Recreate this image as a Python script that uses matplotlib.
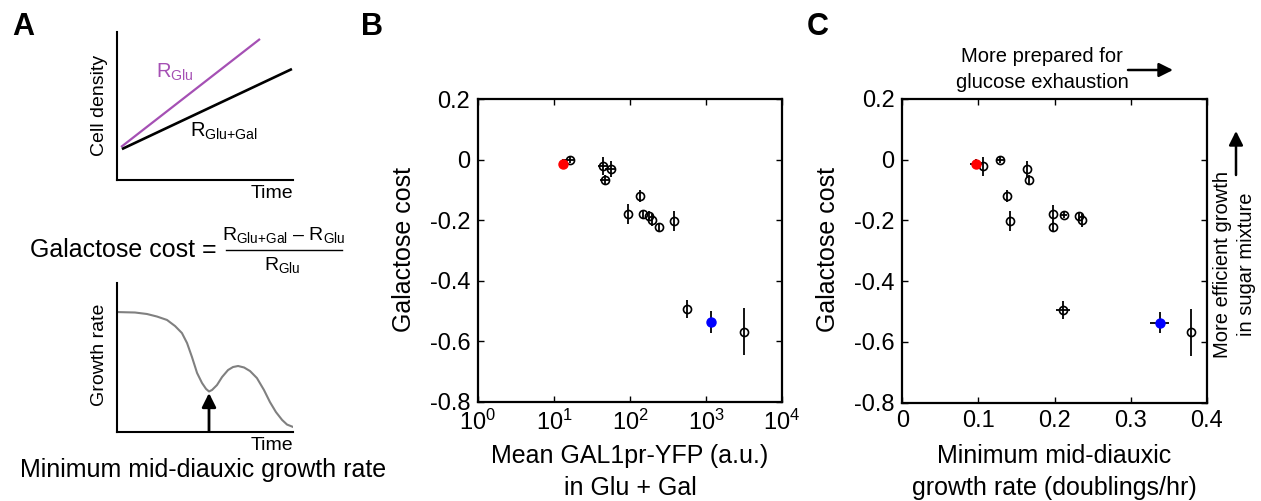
import matplotlib
matplotlib.use('Agg')
import matplotlib.pyplot as plt
from matplotlib.patches import FancyArrowPatch, ArrowStyle
from matplotlib.lines import Line2D
from matplotlib.ticker import NullLocator

# ---------------- data ----------------
# galactose cost (shared by panels B and C)
cost = [0.0, -0.014, -0.022, -0.031, -0.067, -0.120, -0.180, -0.181, -0.186,
        -0.200, -0.201, -0.223, -0.494, -0.536, -0.568]
cost_err = [0.010, 0.015, 0.030, 0.027, 0.017, 0.020, 0.032, 0.012, 0.015,
            0.020, 0.033, 0.012, 0.030, 0.036, 0.078]
# panel B: mean GAL1pr-YFP in Glu + Gal
gal1_yfp = [16.2, 13.1, 44.6, 56.3, 47.3, 137, 95, 150, 176, 195, 376, 241, 562, 1164, 3194]
gal1_err = [2.6, 0, 7.0, 9.0, 7.5, 0, 0, 0, 0, 0, 0, 0, 0, 0, 0]
# panel C: minimum mid-diauxic growth rate (doublings/hr)
min_rate = [0.129, 0.097, 0.1065, 0.164, 0.166, 0.137, 0.1976, 0.212, 0.2318,
            0.236, 0.142, 0.198, 0.211, 0.338, 0.380]
min_rate_err = [0.006, 0.008, 0, 0, 0, 0, 0, 0.004, 0, 0, 0, 0, 0.009, 0.012, 0]
red_idx = 1
blue_idx = 13

# panel A schematics
glu_line_t = [0.023, 0.8125]
glu_line_y = [0.223, 0.953]
glugal_line_t = [0.028, 0.994]
glugal_line_y = [0.209, 0.750]
growth_t = [0.0, 0.102, 0.170, 0.227, 0.284, 0.330, 0.369, 0.398, 0.426, 0.455,
            0.483, 0.506, 0.523, 0.540, 0.568, 0.597, 0.631, 0.659, 0.688, 0.722,
            0.756, 0.795, 0.835, 0.869, 0.903, 0.938, 0.966, 1.0]
growth_r = [0.805, 0.802, 0.792, 0.775, 0.752, 0.711, 0.664, 0.597, 0.503, 0.396,
            0.329, 0.289, 0.272, 0.282, 0.315, 0.369, 0.416, 0.436, 0.443, 0.433,
            0.409, 0.362, 0.282, 0.201, 0.134, 0.081, 0.050, 0.034]

cost_ticks = [-0.8, -0.6, -0.4, -0.2, 0, 0.2]
cost_ticklabels = ['-0.8', '-0.6', '-0.4', '-0.2', '0', '0.2']
yfp_ticks = [1, 10, 100, 1000, 10000]
yfp_ticklabels = [r'$10^0$', r'$10^1$', r'$10^2$', r'$10^3$', r'$10^4$']
rate_ticks = [0, 0.1, 0.2, 0.3, 0.4]
rate_ticklabels = ['0', '0.1', '0.2', '0.3', '0.4']

# ---------------- style ----------------
plt.rcParams['font.family'] = ['Liberation Sans', 'DejaVu Sans']
plt.rcParams['mathtext.fontset'] = 'custom'
plt.rcParams['mathtext.rm'] = 'Liberation Sans'
plt.rcParams['mathtext.it'] = 'Liberation Sans:italic'
plt.rcParams['mathtext.bf'] = 'Liberation Sans:bold'
plt.rcParams['axes.unicode_minus'] = False

W, H = 1261, 501
fig = plt.figure(figsize=(W / 100, H / 100), dpi=100)


def fx(x):
    return x / W


def fy(y):
    return 1 - y / H


def rect(l, t, r, b):
    return [l / W, 1 - b / H, (r - l) / W, (b - t) / H]


def arrow(x0, y0, x1, y1, lw=1.8):
    a = FancyArrowPatch((fx(x0), fy(y0)), (fx(x1), fy(y1)), transform=fig.transFigure,
                        arrowstyle=ArrowStyle('-|>', head_length=0.6, head_width=0.3),
                        mutation_scale=14, lw=lw, color='k', shrinkA=0, shrinkB=0)
    fig.add_artist(a)


def scatter_panel(ax, x, xerr):
    ax.errorbar(x, cost, yerr=cost_err, xerr=xerr, fmt='none', ecolor='k',
                elinewidth=1.3, capsize=0, zorder=2)
    for i in range(len(cost)):
        if i == red_idx:
            ax.plot(x[i], cost[i], 'o', ms=6.5, mfc='#ff0000', mec='#ff0000', zorder=4)
        elif i == blue_idx:
            ax.plot(x[i], cost[i], 'o', ms=6.5, mfc='#0000ff', mec='#0000ff', zorder=4)
        else:
            ax.plot(x[i], cost[i], 'o', ms=5.8, mfc='none', mec='k', mew=1.2, zorder=3)
    ax.set_ylim(-0.8, 0.2)
    ax.set_yticks(cost_ticks)
    ax.set_yticklabels(cost_ticklabels)
    ax.tick_params(direction='in', length=4, width=1, top=True, right=True,
                   labelsize=17)
    ax.tick_params(axis='y', pad=5.5)
    ax.tick_params(axis='x', pad=5.5)
    for s in ax.spines.values():
        s.set_linewidth(1.6)


# ---------------- panel B ----------------
axB = fig.add_axes(rect(478, 99, 782, 402))
axB.set_xscale('log')
scatter_panel(axB, gal1_yfp, gal1_err)
axB.set_xlim(1, 1e4)
axB.set_xticks(yfp_ticks)
axB.set_xticklabels(yfp_ticklabels)
axB.xaxis.set_minor_locator(NullLocator())
fig.text(fx(630), fy(456), 'Mean GAL1pr-YFP (a.u.)', ha='center', va='center', fontsize=18)
fig.text(fx(630), fy(488), 'in Glu + Gal', ha='center', va='center', fontsize=18)
fig.text(fx(404), fy(250), 'Galactose cost', rotation=90, ha='center', va='center', fontsize=18)

# ---------------- panel C ----------------
axC = fig.add_axes(rect(902.3, 99, 1206.7, 402.7))
scatter_panel(axC, min_rate, min_rate_err)
axC.set_xlim(0, 0.4)
axC.set_xticks(rate_ticks)
axC.set_xticklabels(rate_ticklabels)
fig.text(fx(1054), fy(456), 'Minimum mid-diauxic', ha='center', va='center', fontsize=18)
fig.text(fx(1054), fy(488), 'growth rate (doublings/hr)', ha='center', va='center', fontsize=18)
fig.text(fx(828), fy(250), 'Galactose cost', rotation=90, ha='center', va='center', fontsize=18)

fig.text(fx(1042), fy(57), 'More prepared for', ha='center', va='center', fontsize=14.5)
fig.text(fx(1042), fy(82), 'glucose exhaustion', ha='center', va='center', fontsize=14.5)
arrow(1128, 70, 1173, 70)
fig.text(fx(1222), fy(264), 'More efficient growth', rotation=90, ha='center', va='center', fontsize=14.5)
fig.text(fx(1247), fy(264), 'in sugar mixture', rotation=90, ha='center', va='center', fontsize=14.5)
arrow(1236, 175, 1236, 131)

# ---------------- panel A ----------------
axA1 = fig.add_axes(rect(117, 32, 293, 180))
axA1.plot(glu_line_t, glu_line_y, color='#a550b4', lw=1.6, solid_capstyle='butt')
axA1.plot(glugal_line_t, glugal_line_y, color='k', lw=1.9, solid_capstyle='butt')
axA1.set_xlim(0, 1)
axA1.set_ylim(0, 1)

axA2 = fig.add_axes(rect(117, 283, 293, 432))
axA2.plot(growth_t, growth_r, color='#808080', lw=1.5)
axA2.set_xlim(0, 1)
axA2.set_ylim(0, 1)

for ax in (axA1, axA2):
    ax.spines['top'].set_visible(False)
    ax.spines['right'].set_visible(False)
    ax.spines['left'].set_linewidth(1.5)
    ax.spines['bottom'].set_linewidth(1.5)
    ax.set_xticks([])
    ax.set_yticks([])
    ax.patch.set_alpha(0)

fig.text(fx(156), fy(78), r'R$_{\mathrm{Glu}}$', color='#a550b4', ha='left', va='baseline', fontsize=14.5)
fig.text(fx(190), fy(137), r'R$_{\mathrm{Glu{+}Gal}}$', color='k', ha='left', va='baseline', fontsize=14.5)
fig.text(fx(99), fy(105), 'Cell density', rotation=90, ha='center', va='center', fontsize=14)
fig.text(fx(293), fy(193), 'Time', ha='right', va='center', fontsize=14)

fig.text(fx(30), fy(250), 'Galactose cost =', ha='left', va='center', fontsize=18)
fig.text(fx(284), fy(240), r'R$_{\mathrm{Glu{+}Gal}}$ – R$_{\mathrm{Glu}}$', ha='center', va='baseline', fontsize=14)
fig.text(fx(282), fy(270), r'R$_{\mathrm{Glu}}$', ha='center', va='baseline', fontsize=14)
fig.add_artist(Line2D([fx(226), fx(342)], [fy(250), fy(250)], transform=fig.transFigure,
                      color='k', lw=1.0))

fig.text(fx(99), fy(355), 'Growth rate', rotation=90, ha='center', va='center', fontsize=14)
fig.text(fx(293), fy(445), 'Time', ha='right', va='center', fontsize=14)
arrow(209, 431, 209, 393, lw=2.0)
fig.text(fx(20), fy(470), 'Minimum mid-diauxic growth rate', ha='left', va='center', fontsize=18)

# panel letters
fig.text(fx(12), fy(27), 'A', fontsize=22, fontweight='bold', ha='left', va='center')
fig.text(fx(361), fy(27), 'B', fontsize=22, fontweight='bold', ha='left', va='center')
fig.text(fx(807), fy(27), 'C', fontsize=22, fontweight='bold', ha='left', va='center')

fig.savefig('out.png', dpi=100)
